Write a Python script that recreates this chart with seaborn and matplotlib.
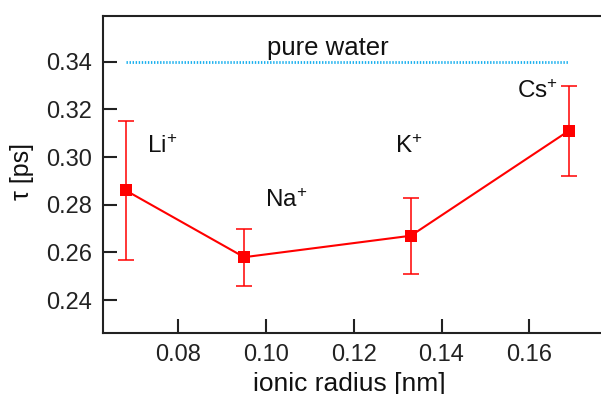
import matplotlib
matplotlib.use("Agg")
import matplotlib.pyplot as plt
import seaborn as sns
import pandas as pd

# data
ions = ["Li", "Na", "K", "Cs"]
radius_nm = [0.068, 0.095, 0.133, 0.169]
tau_ps = [0.286, 0.258, 0.267, 0.311]
tau_err = [0.029, 0.012, 0.016, 0.019]
pure_water_tau = 0.34
ion_label_x = [0.0728, 0.0998, 0.1294, 0.1573]
ion_label_y = [0.3017, 0.2792, 0.3017, 0.3248]
x_ticks = [0.08, 0.10, 0.12, 0.14, 0.16]
y_ticks = [0.24, 0.26, 0.28, 0.30, 0.32, 0.34]

df = pd.DataFrame({"ion": ions, "radius": radius_nm, "tau": tau_ps, "err": tau_err})

sns.set_theme(style="white")
plt.rcParams["font.family"] = ["Liberation Sans", "DejaVu Sans"]
plt.rcParams["mathtext.fontset"] = "custom"
plt.rcParams["mathtext.rm"] = "Liberation Sans"
plt.rcParams["mathtext.default"] = "regular"

fig = plt.figure(figsize=(6.01, 3.94), dpi=100)
ax = fig.add_axes([103 / 601, 1 - 332.5 / 394, (620 - 103) / 601, (332.5 - 16) / 394])

red = "#FF0000"
ax.errorbar(df["radius"], df["tau"], yerr=df["err"], fmt="none", ecolor=red,
            elinewidth=1.1, capsize=5.5, capthick=1.1, zorder=2)
sns.lineplot(data=df, x="radius", y="tau", ax=ax, color=red, marker="s",
             markersize=8.5, markeredgewidth=0, linewidth=1.5, zorder=3)

ax.hlines(pure_water_tau, radius_nm[0], radius_nm[-1], colors="#1AB0EE",
          linewidth=2.0, linestyles=(0, (0.5, 0.6)), zorder=1)
ax.text(0.1140, 0.3428, "pure water", ha="center", va="baseline", fontsize=18.5, color="#111111")

for name, lx, ly in zip(ions, ion_label_x, ion_label_y):
    ax.text(lx, ly, name + "$^{+}$", ha="left", va="baseline", fontsize=17.5, color="#111111")

ax.set_xlim(0.0628, 0.1807)
ax.set_ylim(0.2264, 0.3592)
ax.set_xticks(x_ticks)
ax.set_yticks(y_ticks)
ax.set_xticklabels([f"{v:.2f}" for v in x_ticks])
ax.set_yticklabels([f"{v:.2f}" for v in y_ticks])
ax.tick_params(direction="in", length=10, width=1.5, color="#222222",
               labelsize=17, labelcolor="#222222", pad=8, bottom=True, left=True)
for s in ax.spines.values():
    s.set_linewidth(1.5)
    s.set_color("#222222")

ax.set_xlabel("ionic radius [nm]", fontsize=19, color="#111111")
ax.set_ylabel("τ [ps]", fontsize=18, color="#111111")
ax.xaxis.set_label_coords((349 - 103) / (620 - 103), -0.124)
ax.yaxis.set_label_coords(-(103 - 34) / (620 - 103), 0.51)
ax.grid(False)

fig.savefig("out.png", dpi=100)
